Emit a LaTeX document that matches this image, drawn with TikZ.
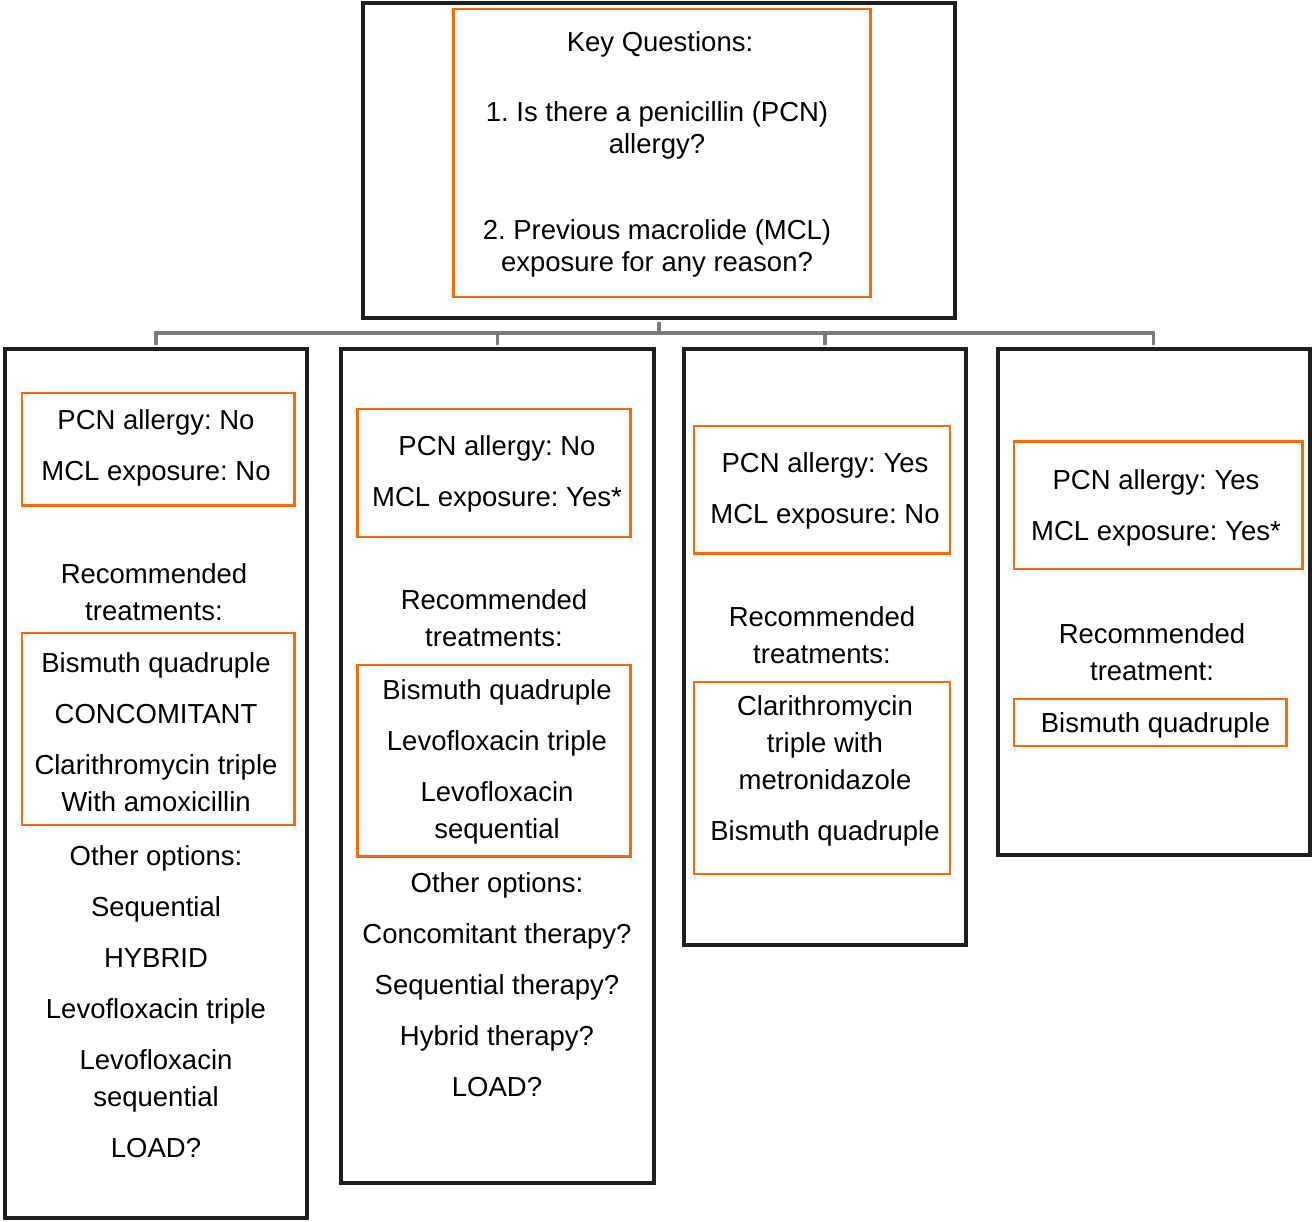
\documentclass[tikz,border=0pt]{standalone}
\usepackage{fontspec}
\setmainfont{Liberation Sans}
\usetikzlibrary{fit}
\definecolor{boxorange}{RGB}{255,102,10}
\definecolor{conngray}{RGB}{122,122,122}
\frenchspacing

\begin{document}
\begin{tikzpicture}[x=0.5pt,y=-0.5pt,
	colbox/.style={draw=black!88,line width=2pt},
	obox/.style={draw=boxorange,line width=1.2pt},
	conn/.style={draw=conngray,line width=1.6pt},
	txt/.style={anchor=base}]
 	\tikzstyle{every node}+=[inner sep=0pt,align=center,font=\fontsize{13.75}{18.5}\selectfont]
 	\useasboundingbox (0,0) rectangle (1312,1221);
 	\node [colbox,fit={(363,3) (955,318)}] (qbox) {};
 	\node [obox,fit={(453.5,9) (870.5,297)}] (qinner) {};
 	\node [txt] (qhead) at (660,51.7) {Key Questions:};
 	\node [txt] (q1) at (657,153.5) {1. Is there a penicillin (PCN)\\[-2.5pt]allergy?};
 	\node [txt] (q2) at (657,271.5) {2. Previous macrolide (MCL)\\[-2.5pt]exposure for any reason?};
 	\node [colbox,fit={(5,349) (307,1218)}] (c1) {};
 	\node [obox,fit={(21.7,392.7) (294.3,505.3)}] (c1a) {};
 	\node [txt] (c1at) at (156,480) {PCN allergy: No\\[7pt]MCL exposure: No};
 	\node [txt] (c1r) at (154,620) {Recommended\\treatments:};
 	\node [obox,fit={(21.7,632.7) (294.3,825)}] (c1b) {};
 	\node [txt] (c1bt) at (156,811) {Bismuth quadruple\\[7pt]CONCOMITANT\\[7pt]Clarithromycin triple\\With amoxicillin};
 	\node [txt] (c1o) at (156,1157) {Other options:\\[7pt]Sequential\\[7pt]HYBRID\\[7pt]Levofloxacin triple\\[7pt]Levofloxacin\\sequential\\[7pt]LOAD?};
 	\node [colbox,fit={(341,349) (654,1183)}] (c2) {};
 	\node [obox,fit={(357.5,409) (630.5,537)}] (c2a) {};
 	\node [txt] (c2at) at (497,506.7) {PCN allergy: No\\[7pt]MCL exposure: Yes*};
 	\node [txt] (c2r) at (494,646.7) {Recommended\\treatments:};
 	\node [obox,fit={(357.5,665) (630.5,856.5)}] (c2b) {};
 	\node [txt] (c2bt) at (497,838) {Bismuth quadruple\\[7pt]Levofloxacin triple\\[7pt]Levofloxacin\\sequential};
 	\node [txt] (c2o) at (497,1096) {Other options:\\[7pt]Concomitant therapy?\\[7pt]Sequential therapy?\\[7pt]Hybrid therapy?\\[7pt]LOAD?};
 	\node [colbox,fit={(684,349) (966,945)}] (c3) {};
 	\node [obox,fit={(694,425.7) (950,553.5)}] (c3a) {};
 	\node [txt] (c3at) at (825,523) {PCN allergy: Yes\\[7pt]MCL exposure: No};
 	\node [txt] (c3r) at (822,663.5) {Recommended\\treatments:};
 	\node [obox,fit={(694,682) (950,874)}] (c3b) {};
 	\node [txt] (c3bt) at (825,840.5) {Clarithromycin\\triple with\\metronidazole\\[7pt]Bismuth quadruple};
 	\node [colbox,fit={(997.5,349) (1310,854.5)}] (c4) {};
 	\node [obox,fit={(1014,441.5) (1302.5,569)}] (c4a) {};
 	\node [txt] (c4at) at (1156,540.5) {PCN allergy: Yes\\[7pt]MCL exposure: Yes*};
 	\node [txt] (c4r) at (1152,680.7) {Recommended\\treatment:};
 	\node [obox,fit={(1014,699) (1286.5,746)}] (c4b) {};
 	\node [txt] (c4bt) at (1155.5,732) {Bismuth quadruple};
 	\coordinate (hub) at (659,333);
 	\draw [conn,shorten <=1pt] (qbox.south) -- (qbox.south |- hub);
 	\draw [conn,shorten <=1pt,shorten >=1pt] (c1.north) |- (c4.north |- hub) -- (c4.north);
 	\foreach \c in {c2,c3}
 		\draw [conn,shorten <=1pt] (\c.north) -- (\c.north |- hub);
\end{tikzpicture}
\end{document}
